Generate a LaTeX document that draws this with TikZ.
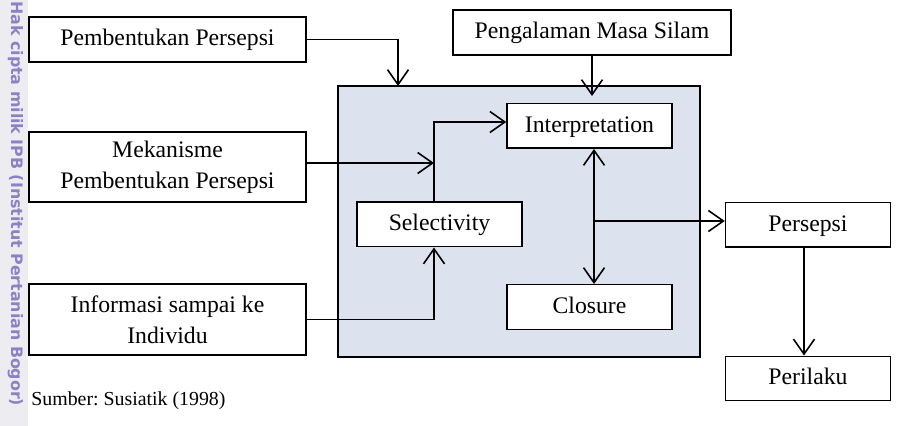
\documentclass[tikz,border=0pt]{standalone}
\usepackage{fontspec}
\setmainfont{Liberation Serif}
\newfontfamily\wmfont{DejaVu Sans}
\usetikzlibrary{arrows.meta}
\definecolor{prosesfill}{HTML}{DCE3EE}
\definecolor{wmcolor}{HTML}{8A82C2}
\definecolor{wmband}{HTML}{EDEDF1}
\tikzset{
  box/.style={draw, line width=0.85pt, fill=white, align=center, inner sep=0pt},
  onerow/.style={text height=0.9em, text depth=0.2em},
  widebox/.style={box, minimum width=5.54cm},
  smallbox/.style={box, onerow, minimum width=3.3cm, minimum height=0.89cm},
  arr/.style={line width=0.9pt, -{Straight Barb[length=3mm,width=4.2mm]}},
  arrboth/.style={line width=0.9pt, {Straight Barb[length=3mm,width=4.2mm]}-{Straight Barb[length=3mm,width=4.2mm]}}
}
\begin{document}
\frenchspacing
\begin{tikzpicture}[font=\fontsize{13.5}{17.6}\selectfont]
\useasboundingbox (0,0) rectangle (18.02,8.52);

% Watermark
\fill[wmband] (0,0) rectangle (0.56,8.52);
\node[rotate=-90, anchor=west, inner sep=0pt, text=wmcolor, font=\wmfont\bfseries\fontsize{9}{9}\selectfont] (hakcipta) at (0.31,8.50) {Hak cipta milik IPB (Institut Pertanian Bogor)};

% Inputs
\node[widebox, onerow, minimum height=0.9cm] (pembentukan) at (3.35,7.73) {Pembentukan Persepsi};
\node[widebox, minimum height=1.4cm] (mekanisme) at (3.35,5.18) {Mekanisme\\Pembentukan Persepsi};
\node[widebox, minimum height=1.42cm] (informasi) at (3.35,2.13) {Informasi sampai ke\\Individu};
\node[box, onerow, minimum width=5.56cm, minimum height=0.9cm] (pengalaman) at (11.84,7.87) {Pengalaman Masa Silam};

% Process
\node[draw, line width=0.85pt, fill=prosesfill, minimum width=7.24cm, minimum height=5.42cm] (proses) at (10.38,4.09) {};
\node[smallbox] (interpretation) at (11.79,6.0) {Interpretation};
\node[smallbox] (selectivity) at (8.79,4.03) {Selectivity};
\node[smallbox] (closure) at (11.79,2.38) {Closure};

% Output
\node[smallbox] (persepsi) at (16.16,4.02) {Persepsi};
\node[smallbox] (perilaku) at (16.16,0.95) {Perilaku};

\node[anchor=base west, inner sep=0pt, font=\fontsize{11.3}{13}\selectfont] (sumber) at (0.62,0.40) {Sumber: Susiatik (1998)};

% Connectors
\coordinate (pembin) at (7.96,6.80);
\coordinate (jtop) at (8.68,6.08);
\coordinate (kx) at (11.88,4.10);
\draw[arr] (pembentukan.east) -| (pembin);
\draw[arr] (pengalaman.south) -- ([yshift=1.4mm]pengalaman.south |- interpretation.north);
\draw[arr] ([yshift=0.08cm]mekanisme.east) -- ([yshift=0.08cm]mekanisme.east -| jtop);
\draw[arr] (selectivity.north -| jtop) -- (jtop) -- (jtop -| interpretation.west);
\draw[arr] (informasi.east) -| (selectivity.south -| jtop);
\draw[arrboth] (interpretation.south -| kx) -- (closure.north -| kx);
\draw[arr] (kx) -- (kx -| persepsi.west);
\draw[arr] ([xshift=-0.08cm]persepsi.south) -- ([xshift=-0.08cm]perilaku.north);
\end{tikzpicture}
\end{document}
